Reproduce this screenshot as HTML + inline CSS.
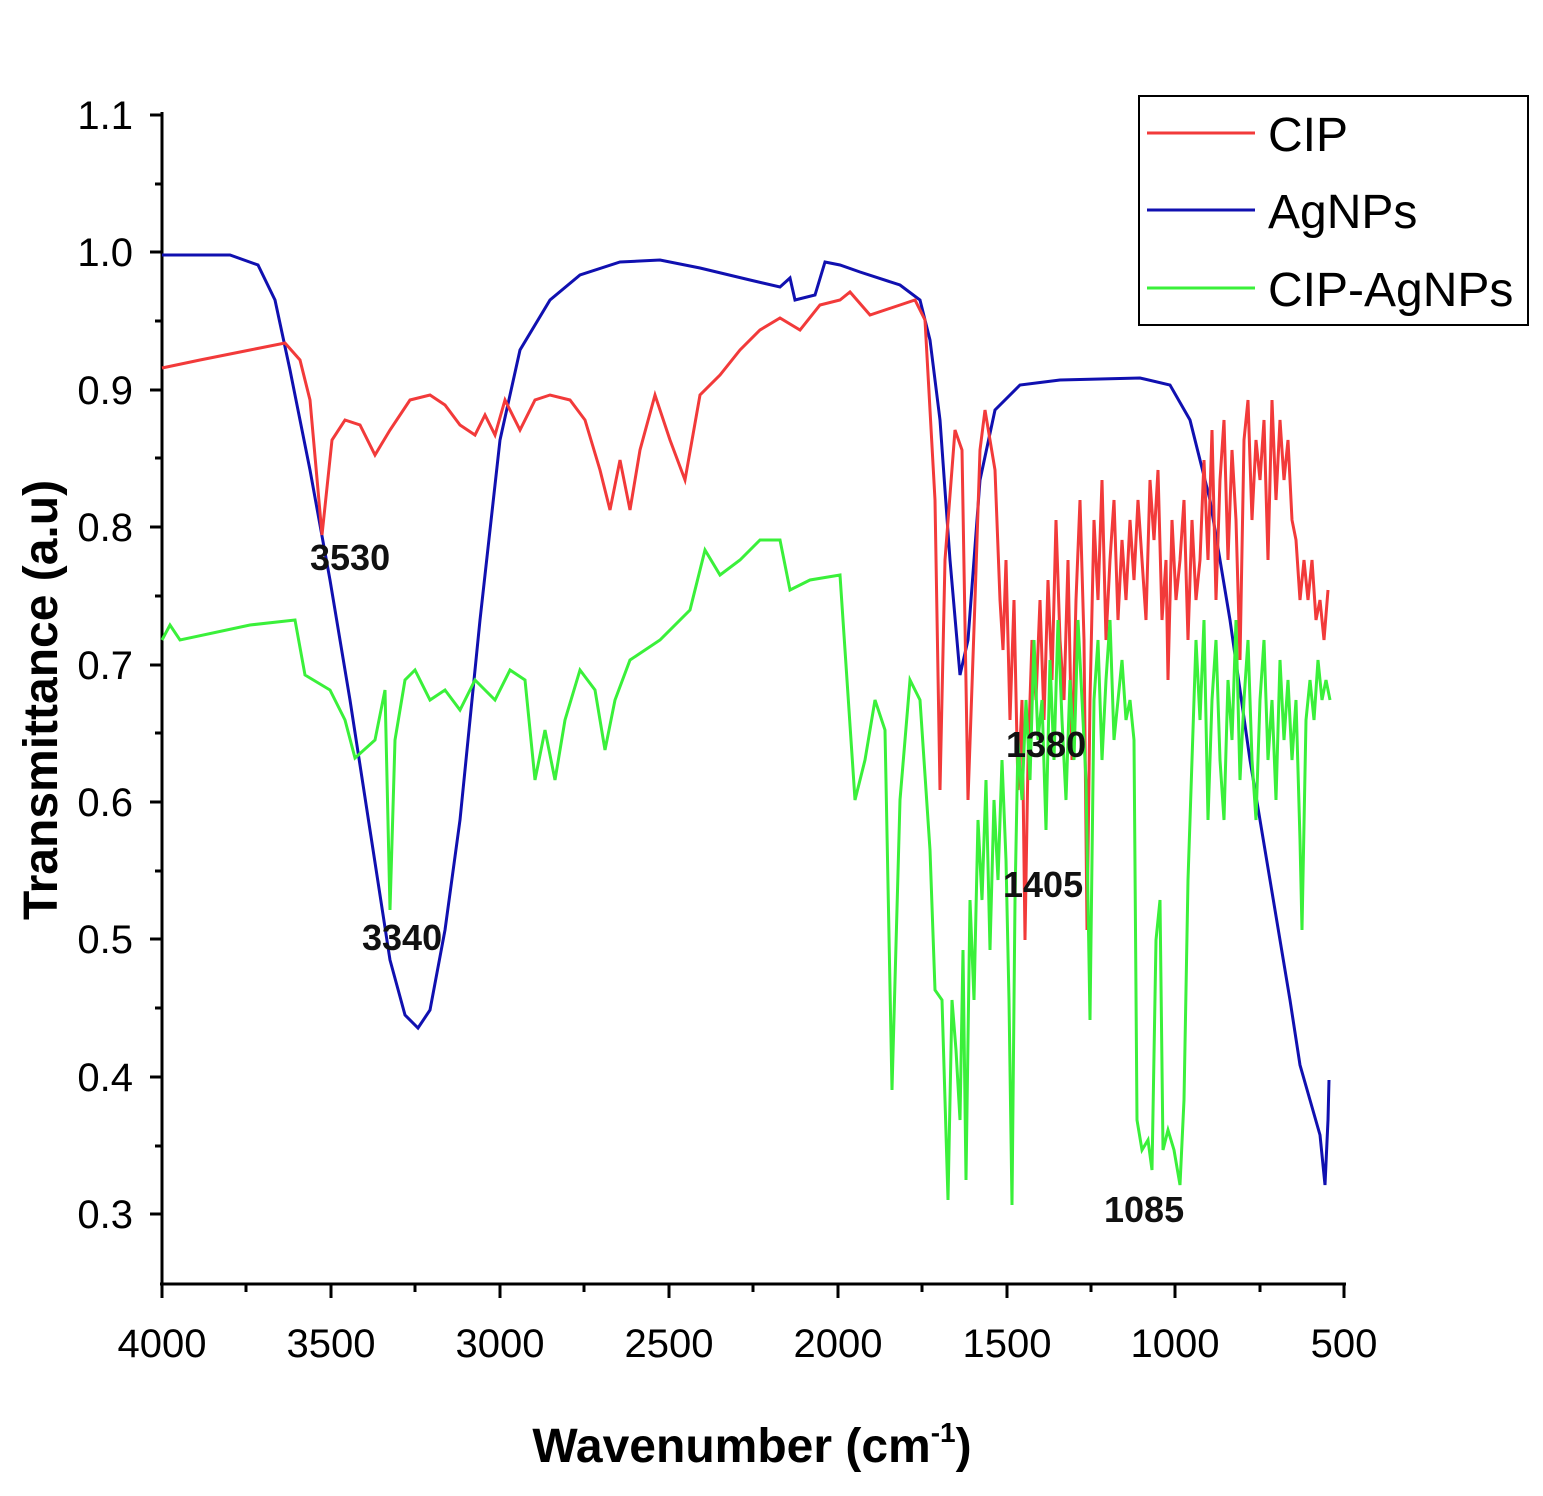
<!DOCTYPE html>
<html><head><meta charset="utf-8">
<style>
html,body{margin:0;padding:0;background:#fff;}
svg{display:block;font-family:"Liberation Sans",Arial,sans-serif;}
</style></head>
<body>
<svg width="1543" height="1496" viewBox="0 0 1543 1496" xmlns="http://www.w3.org/2000/svg">
<rect width="1543" height="1496" fill="#fff"/>
<g stroke="#000" stroke-width="3">
<line x1="150" y1="115" x2="162" y2="115"/><line x1="155" y1="184" x2="162" y2="184"/>
<line x1="150" y1="252" x2="162" y2="252"/><line x1="155" y1="321" x2="162" y2="321"/>
<line x1="150" y1="390" x2="162" y2="390"/><line x1="155" y1="458" x2="162" y2="458"/>
<line x1="150" y1="527" x2="162" y2="527"/><line x1="155" y1="596" x2="162" y2="596"/>
<line x1="150" y1="665" x2="162" y2="665"/><line x1="155" y1="733" x2="162" y2="733"/>
<line x1="150" y1="802" x2="162" y2="802"/><line x1="155" y1="871" x2="162" y2="871"/>
<line x1="150" y1="939" x2="162" y2="939"/><line x1="155" y1="1008" x2="162" y2="1008"/>
<line x1="150" y1="1077" x2="162" y2="1077"/><line x1="155" y1="1146" x2="162" y2="1146"/>
<line x1="150" y1="1214" x2="162" y2="1214"/>
<line x1="162" y1="1284" x2="162" y2="1298"/><line x1="246" y1="1284" x2="246" y2="1292"/>
<line x1="331" y1="1284" x2="331" y2="1298"/><line x1="415" y1="1284" x2="415" y2="1292"/>
<line x1="500" y1="1284" x2="500" y2="1298"/><line x1="584" y1="1284" x2="584" y2="1292"/>
<line x1="669" y1="1284" x2="669" y2="1298"/><line x1="753" y1="1284" x2="753" y2="1292"/>
<line x1="838" y1="1284" x2="838" y2="1298"/><line x1="922" y1="1284" x2="922" y2="1292"/>
<line x1="1007" y1="1284" x2="1007" y2="1298"/><line x1="1091" y1="1284" x2="1091" y2="1292"/>
<line x1="1175" y1="1284" x2="1175" y2="1298"/><line x1="1260" y1="1284" x2="1260" y2="1292"/>
<line x1="1344" y1="1284" x2="1344" y2="1298"/>
</g>
<line x1="162" y1="112" x2="162" y2="1285" stroke="#000" stroke-width="3"/>
<line x1="160" y1="1284" x2="1346" y2="1284" stroke="#000" stroke-width="3"/>
<g font-size="40" text-anchor="end" fill="#000">
<text x="133" y="129">1.1</text><text x="133" y="266">1.0</text><text x="133" y="404">0.9</text>
<text x="133" y="541">0.8</text><text x="133" y="679">0.7</text><text x="133" y="816">0.6</text>
<text x="133" y="953">0.5</text><text x="133" y="1091">0.4</text><text x="133" y="1228">0.3</text>
</g>
<g font-size="40" text-anchor="middle" fill="#000">
<text x="162" y="1357">4000</text><text x="331" y="1357">3500</text><text x="500" y="1357">3000</text>
<text x="669" y="1357">2500</text><text x="838" y="1357">2000</text><text x="1007" y="1357">1500</text>
<text x="1175" y="1357">1000</text><text x="1344" y="1357">500</text>
</g>
<text x="752" y="1462" font-size="48" font-weight="bold" text-anchor="middle">Wavenumber (cm<tspan font-size="28" dy="-20">-1</tspan><tspan dy="20">)</tspan></text>
<text transform="translate(57,700) rotate(-90)" font-size="48" font-weight="bold" text-anchor="middle">Transmittance (a.u)</text>
<polyline fill="none" stroke="#1010b0" stroke-width="3" points="162,255 230,255 258,265 275,300 290,370 310,470 330,580 350,700 370,830 390,960 405,1015 418,1028 430,1010 445,930 460,820 480,620 500,440 520,350 550,300 580,275 620,262 660,260 700,268 750,280 780,287 790,278 795,300 815,295 825,262 840,265 860,272 900,285 920,300 930,340 940,420 950,560 960,675 968,640 980,480 995,410 1020,385 1060,380 1140,378 1170,385 1190,420 1210,500 1230,620 1250,760 1270,880 1290,1000 1300,1065 1310,1100 1320,1135 1325,1185 1328,1120 1329,1080"/>
<polyline fill="none" stroke="#f23a3a" stroke-width="3" points="162,368 200,360 250,350 285,343 300,360 310,400 322,535 332,440 345,420 360,425 375,455 390,430 410,400 430,395 445,405 460,425 475,435 485,415 495,435 505,400 520,430 535,400 550,395 570,400 585,420 600,470 610,510 620,460 630,510 640,450 655,395 670,440 685,480 700,395 720,375 740,350 760,330 780,318 800,330 820,305 840,300 850,292 870,315 900,305 915,300 925,320 935,500 940,790 945,560 955,430 962,450 968,800 975,600 980,450 985,410 995,470 1000,600 1003,650 1006,560 1010,720 1014,600 1018,790 1022,700 1025,940 1028,760 1032,640 1036,700 1040,600 1044,720 1048,580 1052,680 1056,520 1060,640 1064,700 1068,560 1072,760 1076,600 1080,500 1084,640 1087,930 1090,700 1094,520 1098,600 1102,480 1106,640 1110,560 1114,500 1118,620 1122,540 1126,600 1130,520 1134,580 1138,500 1142,560 1146,620 1150,480 1154,540 1158,470 1162,620 1166,560 1168,680 1172,520 1176,600 1180,560 1184,500 1188,640 1192,520 1196,600 1200,560 1204,460 1208,560 1212,430 1216,600 1220,480 1224,420 1228,560 1232,450 1236,520 1240,660 1244,440 1248,400 1252,520 1256,440 1260,480 1264,420 1268,560 1272,400 1276,500 1280,420 1284,480 1288,440 1292,520 1296,540 1300,600 1304,560 1308,600 1312,560 1316,620 1320,600 1324,640 1328,590"/>
<polyline fill="none" stroke="#3af03a" stroke-width="3" points="162,640 170,625 180,640 250,625 295,620 305,675 330,690 345,720 355,758 375,740 385,690 390,910 395,740 405,680 415,670 430,700 445,690 460,710 475,680 495,700 510,670 525,680 535,780 545,730 555,780 565,720 580,670 595,690 605,750 615,700 630,660 660,640 690,610 705,550 720,575 740,560 760,540 780,540 790,590 810,580 840,575 845,650 855,800 865,760 875,700 885,730 892,1090 900,800 910,680 920,700 930,850 935,990 942,1000 945,1100 948,1200 952,1000 956,1050 960,1120 963,950 966,1180 970,900 974,1000 978,820 982,900 986,780 990,950 994,800 998,880 1002,760 1006,860 1009,1000 1012,1205 1015,900 1018,740 1022,800 1026,700 1030,780 1034,640 1038,740 1042,700 1046,830 1050,660 1054,760 1058,620 1062,720 1066,800 1070,680 1074,760 1078,620 1082,700 1086,780 1090,1020 1094,700 1098,640 1102,760 1106,680 1110,620 1114,740 1118,700 1122,660 1126,720 1130,700 1134,740 1137,1120 1142,1150 1148,1140 1152,1170 1156,940 1160,900 1163,1150 1168,1130 1174,1150 1180,1185 1184,1100 1188,880 1192,760 1196,640 1200,720 1204,620 1208,820 1212,700 1216,640 1220,760 1224,820 1228,680 1232,740 1236,620 1240,780 1244,700 1248,640 1252,760 1256,820 1260,700 1264,640 1268,760 1272,700 1276,800 1280,660 1284,740 1288,680 1292,760 1296,700 1300,840 1302,930 1306,720 1310,680 1314,720 1318,660 1322,700 1326,680 1330,700"/>
<g font-size="36" font-weight="bold" fill="#111">
<text x="310" y="570">3530</text><text x="362" y="950">3340</text>
<text x="1006" y="757">1380</text><text x="1003" y="897">1405</text><text x="1104" y="1222">1085</text>
</g>
<rect x="1139" y="96" width="389" height="229" fill="#fff" stroke="#000" stroke-width="2"/>
<line x1="1147" y1="133" x2="1255" y2="133" stroke="#f23a3a" stroke-width="3"/>
<line x1="1147" y1="210" x2="1255" y2="210" stroke="#1010b0" stroke-width="3"/>
<line x1="1147" y1="288" x2="1255" y2="288" stroke="#3af03a" stroke-width="3"/>
<g font-size="48" fill="#000">
<text x="1268" y="151">CIP</text><text x="1268" y="228">AgNPs</text><text x="1268" y="306">CIP-AgNPs</text>
</g>
</svg>
</body></html>
